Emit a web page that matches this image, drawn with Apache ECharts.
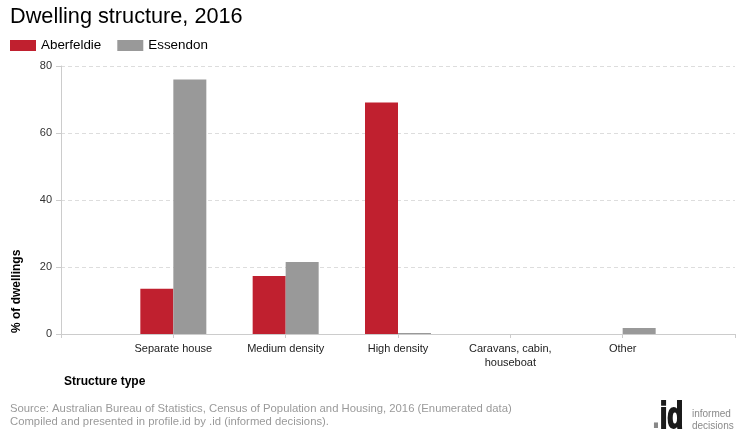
<!DOCTYPE html>
<html>
<head>
<meta charset="utf-8">
<script src="https://cdn.jsdelivr.net/npm/echarts@6/dist/echarts.min.js"></script>
<style>html,body{margin:0;padding:0;background:#fff}#c{width:740px;height:440px}</style>
</head>
<body>
<div id="c"></div>
<script>
const categories = ['', 'Separate house', 'Medium density', 'High density', 'Caravans, cabin,\nhouseboat', 'Other', ''];
const aberfeldie = [null, 13.5, 17.3, 69.1, 0, 0, null];
const essendon = [null, 76.0, 21.5, 0.3, 0, 1.8, null];
const yTicks = [0, 20, 40, 60, 80];

const FONT = '"Liberation Sans", Arial, sans-serif';
const chart = echarts.init(document.getElementById('c'), null, {renderer: 'canvas'});
chart.setOption({
  animation: false,
  textStyle: {fontFamily: FONT},
  title: {
    text: 'Dwelling structure, 2016',
    left: 5, top: 1,
    textStyle: {fontFamily: FONT, fontSize: 21.7, fontWeight: 'normal', color: '#000'}
  },
  legend: {
    left: 5, top: 34,
    itemWidth: 26, itemHeight: 11, itemGap: 16,
    icon: 'rect',
    textStyle: {fontFamily: FONT, fontSize: 13.4, color: '#000'},
    data: ['Aberfeldie', 'Essendon']
  },
  grid: {left: 61, right: 5, top: 66, bottom: 106, containLabel: false},
  xAxis: {
    type: 'category',
    data: categories,
    boundaryGap: false,
    axisLine: {lineStyle: {color: '#cccccc', width: 1}},
    axisTick: {show: true, length: 4, lineStyle: {color: '#cccccc'}, alignWithLabel: true},
    axisLabel: {fontFamily: FONT, fontSize: 11, color: '#222', margin: 8, lineHeight: 14, interval: 0},
    splitLine: {show: false}
  },
  yAxis: {
    type: 'value',
    min: yTicks[0], max: yTicks[yTicks.length - 1], interval: 20,
    axisLine: {show: true, lineStyle: {color: '#cccccc'}},
    axisTick: {show: true, length: 5, lineStyle: {color: '#cccccc'}},
    axisLabel: {fontFamily: FONT, fontSize: 11, color: '#333', margin: 9},
    splitLine: {show: true, lineStyle: {color: '#dddddd', type: [4, 3]}}
  },
  series: [
    {name: 'Aberfeldie', type: 'bar', data: aberfeldie, barWidth: 33, barGap: '0%', itemStyle: {color: '#c0202f'}},
    {name: 'Essendon', type: 'bar', data: essendon, barWidth: 33, barGap: '0%', itemStyle: {color: '#999999'}}
  ],
  graphic: [
    {type: 'text', rotation: Math.PI / 2, x: 11, y: 333,
      style: {text: '% of dwellings', font: 'bold 12px ' + FONT, fill: '#000', textAlign: 'left', textVerticalAlign: 'top'}},
    {type: 'text', x: 64, y: 376,
      style: {text: 'Structure type', font: 'bold 12px ' + FONT, fill: '#000'}},
    {type: 'text', x: 10, y: 403,
      style: {text: 'Source: Australian Bureau of Statistics, Census of Population and Housing, 2016 (Enumerated data)', font: '11.3px ' + FONT, fill: '#9a9a9a'}},
    {type: 'text', x: 10, y: 416,
      style: {text: 'Compiled and presented in profile.id by .id (informed decisions).', font: '11.3px ' + FONT, fill: '#9a9a9a'}},
    {type: 'text', x: 652, y: 400, scaleX: 0.8,
      style: {text: '.', font: 'bold 36px ' + FONT, fill: '#888'}},
    {type: 'text', x: 660, y: 400, scaleX: 0.72,
      style: {text: 'id', font: 'bold 36px ' + FONT, fill: '#1a1a1a', stroke: '#1a1a1a', lineWidth: 2}},
    {type: 'text', x: 692, y: 409,
      style: {text: 'informed', font: '10px ' + FONT, fill: '#8a8a8a'}},
    {type: 'text', x: 692, y: 421,
      style: {text: 'decisions', font: '10px ' + FONT, fill: '#8a8a8a'}}
  ]
});
</script>
</body>
</html>
